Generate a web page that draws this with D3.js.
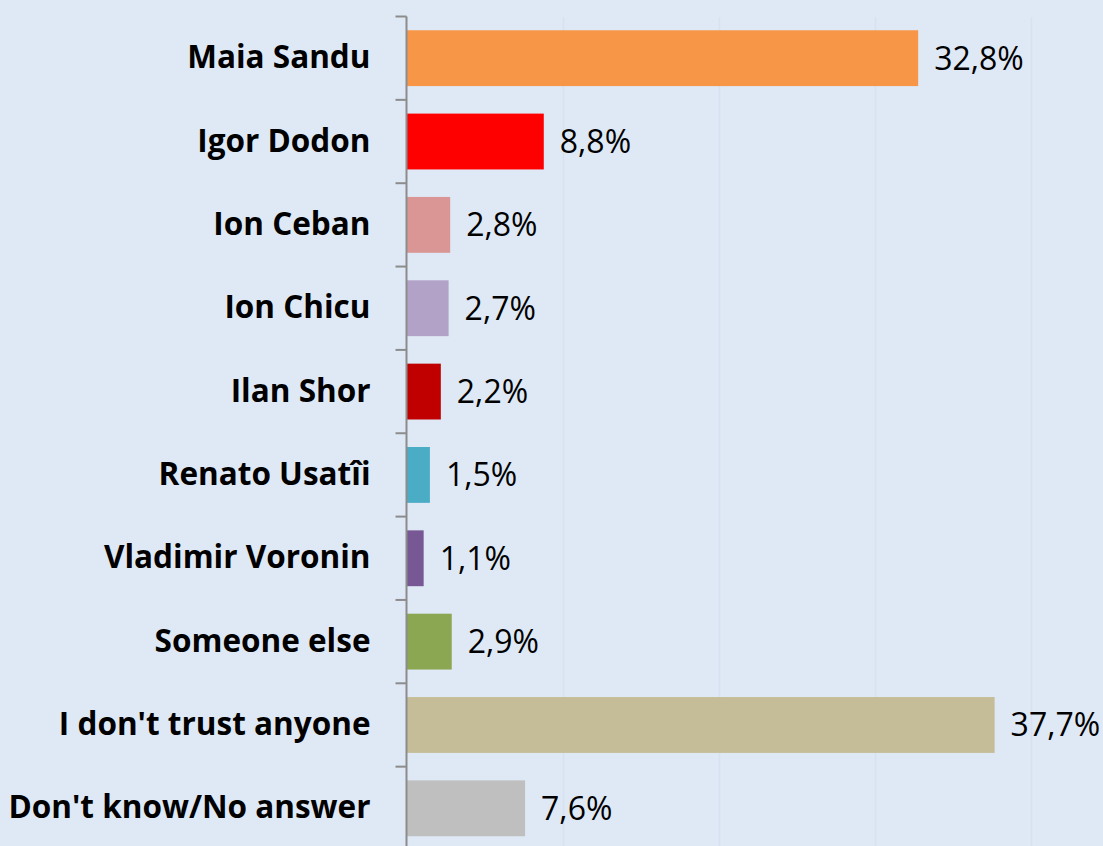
<!DOCTYPE html>
<html>
<head>
<meta charset="utf-8">
<script src="https://cdn.jsdelivr.net/npm/d3@7"></script>
<style>
  body { margin: 0; background: #dee9f5; }
  svg { display: block; }
</style>
</head>
<body>
<svg width="1103" height="846"></svg>
<script>
// data
var names = ["Maia Sandu", "Igor Dodon", "Ion Ceban", "Ion Chicu", "Ilan Shor",
             "Renato Usatîi", "Vladimir Voronin", "Someone else",
             "I don't trust anyone", "Don't know/No answer"];
var shares = [32.8, 8.8, 2.8, 2.7, 2.2, 1.5, 1.1, 2.9, 37.7, 7.6];
var barColors = ["#f79646", "#ff0000", "#d99694", "#b3a2c7", "#c00000",
                 "#4bacc6", "#775794", "#8ba752", "#c4bd97", "#bfbfbf"];
var gridTicks = [10, 20, 30, 40];

var svg = d3.select("svg"),
    width = +svg.attr("width"),
    height = +svg.attr("height");

var labelFont = "'Open Sans', 'Noto Sans', sans-serif";

var x = d3.scaleLinear().domain([0, 40]).range([406.5, 1030.5]);
var y = d3.scaleBand().domain(names).range([16.5, 850])
    .paddingInner(0.33).paddingOuter(0.165);

svg.append("rect").attr("width", width).attr("height", height).attr("fill", "#dee9f5");

// vertical gridlines
svg.append("g")
    .selectAll("line")
    .data(gridTicks)
    .enter().append("line")
    .attr("x1", function (d) { return Math.round(x(d)) + 0.5; })
    .attr("x2", function (d) { return Math.round(x(d)) + 0.5; })
    .attr("y1", 17)
    .attr("y2", height)
    .attr("stroke", "#d6e2ef")
    .attr("stroke-width", 1.5);

// bars
svg.append("g")
    .selectAll("rect")
    .data(names)
    .enter().append("rect")
    .attr("x", x(0))
    .attr("y", function (d) { return y(d); })
    .attr("width", function (d, i) { return x(shares[i]) - x(0); })
    .attr("height", y.bandwidth())
    .attr("fill", function (d, i) { return barColors[i]; });

// value labels
svg.append("g")
    .selectAll("text")
    .data(names)
    .enter().append("text")
    .attr("x", function (d, i) { return x(shares[i]) + 16; })
    .attr("y", function (d) { return y(d) + y.bandwidth() / 2; })
    .attr("dy", "0.36em")
    .style("font-family", labelFont)
    .style("font-size", "32px")
    .attr("fill", "#000")
    .text(function (d, i) { return shares[i].toFixed(1).replace(".", ",") + "%"; });

// category axis
var step = y.step();
var axis = d3.axisLeft(y).tickSize(0).tickPadding(36);
var gAxis = svg.append("g")
    .attr("transform", "translate(" + x(0) + ",0)")
    .call(axis);
gAxis.select(".domain").remove();
gAxis.selectAll("text")
    .style("font-family", labelFont)
    .style("font-weight", "bold")
    .style("font-size", "31.5px")
    .attr("fill", "#000");

// axis line and band ticks
var boundaries = d3.range(names.length + 1).map(function (i) { return 16.5 + i * step; });
svg.append("line")
    .attr("x1", x(0)).attr("x2", x(0))
    .attr("y1", 16.5).attr("y2", height)
    .attr("stroke", "#8c8c8c").attr("stroke-width", 2);
svg.append("g")
    .selectAll("line")
    .data(boundaries)
    .enter().append("line")
    .attr("x1", x(0) - 11).attr("x2", x(0))
    .attr("y1", function (d) { return d; })
    .attr("y2", function (d) { return d; })
    .attr("stroke", "#8c8c8c").attr("stroke-width", 2);
</script>
</body>
</html>
